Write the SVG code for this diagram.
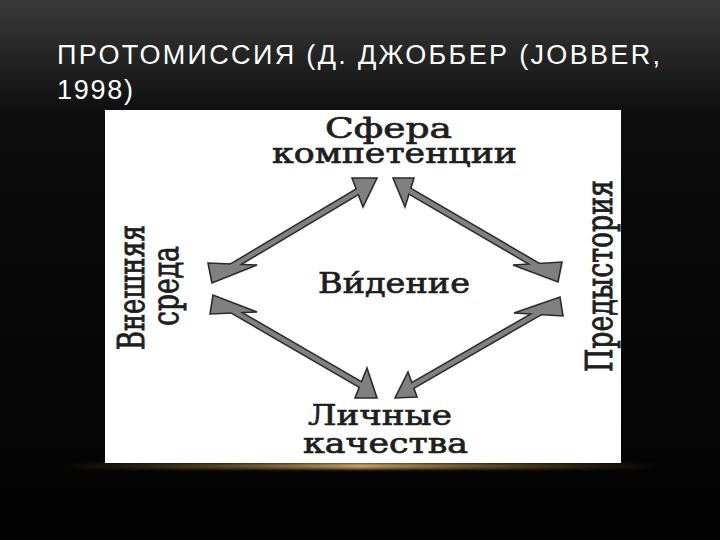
<svg xmlns="http://www.w3.org/2000/svg" width="720" height="540" viewBox="0 0 720 540">
  <defs>
    <linearGradient id="bg" x1="0" y1="0" x2="0" y2="1">
      <stop offset="0" stop-color="#3a3a3a"/>
      <stop offset="0.22" stop-color="#0c0c0c"/>
      <stop offset="1" stop-color="#020202"/>
    </linearGradient>
    <linearGradient id="glow" x1="0" y1="0" x2="1" y2="0">
      <stop offset="0" stop-color="#5a4520" stop-opacity="0"/>
      <stop offset="0.2" stop-color="#6a5228" stop-opacity="0.6"/>
      <stop offset="0.5" stop-color="#c9a263"/>
      <stop offset="0.8" stop-color="#6a5228" stop-opacity="0.6"/>
      <stop offset="1" stop-color="#5a4520" stop-opacity="0"/>
    </linearGradient>
    <filter id="blur" x="-10%" y="-200%" width="120%" height="500%">
      <feGaussianBlur stdDeviation="1.5"/>
    </filter>
    <style>
      .title { font-family: "Liberation Sans", Arial, sans-serif; font-size: 27px; fill: #ffffff; }
      .lbl { font-family: "DejaVu Serif", "Liberation Serif", serif; font-size: 27px; fill: #1e1e1e; stroke: #1e1e1e; stroke-width: 0.7px; }
      .shaft-o { stroke: #2a2a2a; stroke-width: 7.5; stroke-linecap: butt; fill: none; }
      .shaft-i { stroke: #808080; stroke-width: 4.5; stroke-linecap: butt; fill: none; }
      .head { fill: #808080; stroke: #2a2a2a; stroke-width: 1.6; stroke-linejoin: miter; }
    </style>
  </defs>

  <rect x="0" y="0" width="720" height="540" fill="url(#bg)"/>

  <g id="title">
    <text class="title" x="57" y="64" textLength="603">ПРОТОМИССИЯ (Д. ДЖОББЕР (JOBBER,</text>
    <text class="title" x="57" y="99" textLength="76">1998)</text>
  </g>

  <rect id="glow-line" x="60" y="463" width="600" height="6" fill="url(#glow)" filter="url(#blur)"/>
  <rect id="panel" x="105" y="110" width="516" height="353" fill="#ffffff"/>

  <g id="connectors">
    <g id="arrow-top-left">
      <line class="shaft-o" x1="225.7" y1="270.3" x2="364" y2="187.7"/>
      <polygon class="head" points="377,178 352,178 363,207"/>
      <polygon class="head" points="212,283 208,263 257,265"/>
      <line class="shaft-i" x1="225.7" y1="270.3" x2="364" y2="187.7"/>
    </g>
    <g id="arrow-top-right">
      <line class="shaft-o" x1="404" y1="187.7" x2="544.3" y2="269.7"/>
      <polygon class="head" points="393,178 414,178 405,207"/>
      <polygon class="head" points="558,282 562,262 513,265"/>
      <line class="shaft-i" x1="404" y1="187.7" x2="544.3" y2="269.7"/>
    </g>
    <g id="arrow-bottom-left">
      <line class="shaft-o" x1="226.7" y1="307" x2="366.3" y2="388"/>
      <polygon class="head" points="213,295 210,314 257,312"/>
      <polygon class="head" points="367,368 355,398 377,398"/>
      <line class="shaft-i" x1="226.7" y1="307" x2="366.3" y2="388"/>
    </g>
    <g id="arrow-bottom-right">
      <line class="shaft-o" x1="545.7" y1="308.7" x2="406.7" y2="389"/>
      <polygon class="head" points="514,313 560,297 563,316"/>
      <polygon class="head" points="408,372 395,398 417,397"/>
      <line class="shaft-i" x1="545.7" y1="308.7" x2="406.7" y2="389"/>
    </g>
  </g>

  <g id="node-competence">
    <text class="lbl" x="325" y="138" textLength="127" lengthAdjust="spacingAndGlyphs">Сфера</text>
    <text class="lbl" x="272" y="163" font-size="26" textLength="245" lengthAdjust="spacingAndGlyphs">компетенции</text>
  </g>
  <g id="node-vision">
    <text class="lbl" x="318" y="293" textLength="152" lengthAdjust="spacingAndGlyphs">Ви́дение</text>
  </g>
  <g id="node-personal">
    <text class="lbl" x="308" y="425" textLength="144" lengthAdjust="spacingAndGlyphs">Личные</text>
    <text class="lbl" x="303" y="453" textLength="165" lengthAdjust="spacingAndGlyphs">качества</text>
  </g>
  <g id="node-environment">
    <text class="lbl" font-size="26" transform="translate(144,350) rotate(-90) scale(1,1.4)" textLength="125" lengthAdjust="spacingAndGlyphs">Внешняя</text>
    <text class="lbl" font-size="24" transform="translate(178,326) rotate(-90) scale(1,1.4)" textLength="80" lengthAdjust="spacingAndGlyphs">среда</text>
  </g>
  <g id="node-history">
    <text class="lbl" font-size="26" transform="translate(612,372) rotate(-90) scale(1,1.37)" textLength="192" lengthAdjust="spacingAndGlyphs">Предыстория</text>
  </g>
</svg>
